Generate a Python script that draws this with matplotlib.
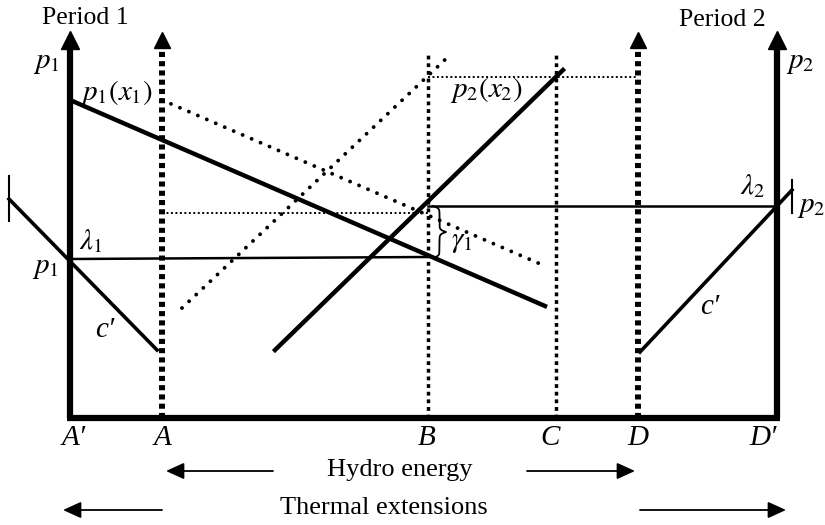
import numpy as np
import matplotlib
matplotlib.use("Agg")
import matplotlib.pyplot as plt

plt.rcParams['font.family'] = ['Liberation Serif', 'DejaVu Serif']
plt.rcParams['mathtext.fontset'] = 'stix'

# ---------------- data (diagram units, y grows downward) ----------------
point_names = ["A\u2032", "A", "B", "C", "D", "D\u2032"]
point_x = [70, 162, 428, 556, 638, 777]
point_label_x = [74, 162, 427, 550, 638, 763]
base_y = 418
axis_top = 46
guide_top = 55

p1_x, p1_y = [70, 545], [100, 306]          # p1(x1) solid
p1s_x, p1s_y = [162, 545], [100, 266]       # shifted p1 (dotted)
p2_x, p2_y = [275, 563], [350, 70]          # p2(x2) solid
p2s_x, p2s_y = [182, 450], [308, 55]        # shifted p2 (dotted)
lam1_x, lam1_y = [70, 428], [259, 257]
lam2_x, lam2_y = [428, 777], [206, 206]
dmid_x, dmid_y = [162, 428], [213, 213]
dtop_x, dtop_y = [428, 638], [77, 77]
cl_x, cl_y = [9, 157], [199, 350]
cr_x, cr_y = [640, 792], [352, 190]
tickl_x, tickl_y = [9, 9], [176, 221]
tickr_x, tickr_y = [792, 792], [180, 213]
brace_y = [206, 258]

fig = plt.figure(figsize=(8.25, 5.25), dpi=100)
ax = fig.add_axes([0, 0, 1, 1])
ax.set_xlim(0, 825)
ax.set_ylim(525, 0)
ax.axis('off')

k = 'black'
# main solid axes A', D'
for i in (0, 5):
    ax.plot([point_x[i], point_x[i]], [base_y, axis_top], color=k, lw=4.5, solid_capstyle='butt')
    ax.plot(point_x[i], 40, marker='^', ms=13, color=k)
# thick dashed A, D
for i in (1, 4):
    ax.plot([point_x[i], point_x[i]], [base_y, axis_top], color=k, lw=4.3,
            linestyle=(0, (0.85, 0.7)), dash_capstyle='butt')
    ax.plot(point_x[i], 40, marker='^', ms=12, color=k)
# thin dotted B, C
for i in (2, 3):
    ax.plot([point_x[i], point_x[i]], [base_y, guide_top], color=k, lw=2.5,
            linestyle=(0, (1.1, 1.1)), dash_capstyle='butt')
# bottom axis
ax.plot([point_x[0] - 3, point_x[5] + 3], [base_y, base_y], color=k, lw=4.5, solid_capstyle='butt')

# demand curves
ax.plot(p1_x, p1_y, color=k, lw=3.2)
ax.plot(p2_x, p2_y, color=k, lw=3.2)
ax.plot(p1s_x, p1s_y, color=k, lw=2.8, linestyle=(0, (0.01, 2.5)), dash_capstyle='round')
ax.plot(p2s_x, p2s_y, color=k, lw=2.8, linestyle=(0, (0.01, 2.5)), dash_capstyle='round')

# price levels
ax.plot(lam1_x, lam1_y, color=k, lw=1.8)
ax.plot(lam2_x, lam2_y, color=k, lw=1.8)
ax.plot(dmid_x, dmid_y, color=k, lw=1.4, linestyle=(0, (1, 1.3)), dash_capstyle='butt')
ax.plot(dtop_x, dtop_y, color=k, lw=1.4, linestyle=(0, (1, 1.3)), dash_capstyle='butt')

# thermal cost lines
ax.plot(cl_x, cl_y, color=k, lw=2.6)
ax.plot(cr_x, cr_y, color=k, lw=2.6)
ax.plot(tickl_x, tickl_y, color=k, lw=1.5)
ax.plot(tickr_x, tickr_y, color=k, lw=1.5)

# curly brace
t = np.linspace(0, 0.5, 200)
beta = 45
half = 1 / (1 + np.exp(-beta * (t - t[0]))) + 1 / (1 + np.exp(-beta * (t - t[-1]))) - 0.5
bx = np.concatenate([half, half[-2::-1]])
by = np.linspace(brace_y[0], brace_y[1], len(bx))
ax.plot(433 + 13 * bx, by, color=k, lw=1.3)

# text
fs = 18.5
ms = 21
ax.text(85, 18, "Period 1", fontsize=fs, ha='center', va='center')
ax.text(722, 20, "Period 2", fontsize=fs, ha='center', va='center')
ax.text(46, 63, r"$p_1$", fontsize=ms, ha='center', va='center')
ax.text(116, 93, r"$p_1(x_1)$", fontsize=ms, ha='center', va='center')
ax.text(800, 63, r"$p_2$", fontsize=ms, ha='center', va='center')
ax.text(486, 90, r"$p_2(x_2)$", fontsize=ms, ha='center', va='center')
ax.text(753, 186, r"$\lambda_2$", fontsize=ms, ha='center', va='center')
ax.text(811, 207, r"$p_2$", fontsize=ms, ha='center', va='center')
ax.text(91, 241, r"$\lambda_1$", fontsize=ms, ha='center', va='center')
ax.text(45, 268, r"$p_1$", fontsize=ms, ha='center', va='center')
ax.text(105, 330, "c\u2032", fontsize=ms, style='italic', ha='center', va='center')
ax.text(710, 307, "c\u2032", fontsize=ms, style='italic', ha='center', va='center')
ax.text(462, 242, r"$\gamma_1$", fontsize=ms, ha='center', va='center')
for name, lx in zip(point_names, point_label_x):
    ax.text(lx, 438, name, fontsize=21, style='italic', ha='center', va='center')

ax.text(400, 470, "Hydro energy", fontsize=19, ha='center', va='center')
ax.text(384, 508, "Thermal extensions", fontsize=19, ha='center', va='center')

aprops = dict(arrowstyle='-|>,head_length=0.55,head_width=0.25', lw=1.3, color=k,
              shrinkA=0, shrinkB=0, mutation_scale=20)
ax.annotate('', xy=(point_x[1] + 4, 471), xytext=(273, 471), arrowprops=aprops)
ax.annotate('', xy=(point_x[4] - 3, 471), xytext=(527, 471), arrowprops=aprops)
ax.annotate('', xy=(63, 510), xytext=(162, 510), arrowprops=aprops)
ax.annotate('', xy=(786, 510), xytext=(640, 510), arrowprops=aprops)

fig.savefig("out.png", dpi=100)
